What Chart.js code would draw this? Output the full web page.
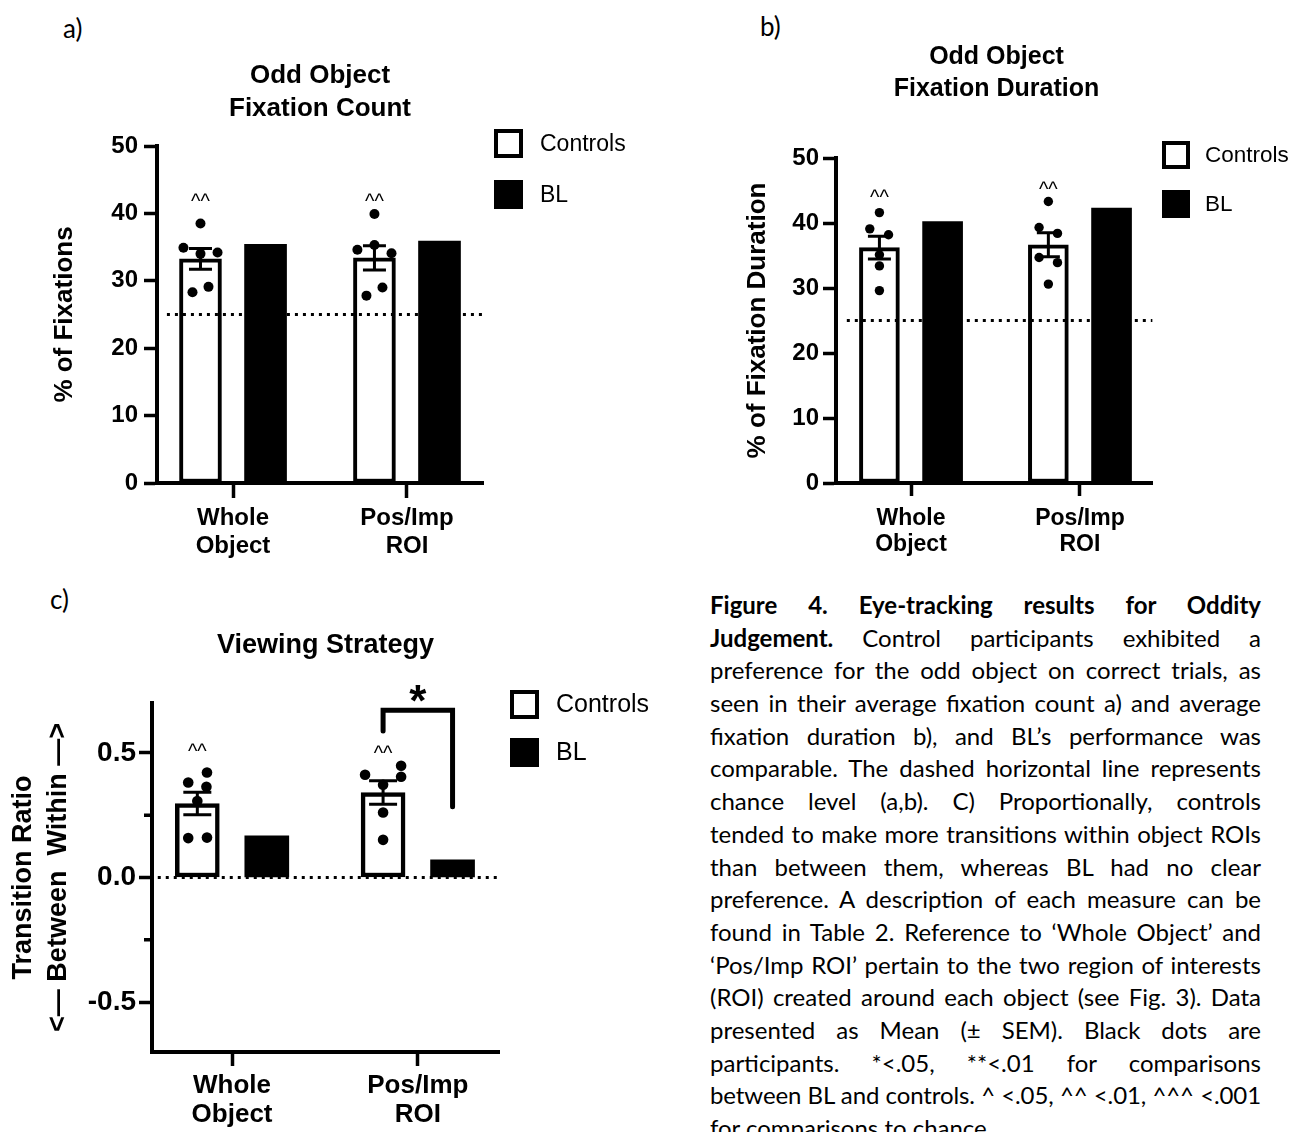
<!DOCTYPE html>
<html>
<head>
<meta charset="utf-8">
<script src="https://cdn.jsdelivr.net/npm/chart.js@4.4.1/dist/chart.umd.min.js"></script>
<style>
  html, body { margin: 0; padding: 0; background: #fff; }
  body { width: 1293px; height: 1132px; position: relative; overflow: hidden; }
  canvas { position: absolute; }
  .tag { position: absolute; font-family: Lato, 'Noto Sans', sans-serif; font-size: 26px; line-height: 1.2; color: #000; }
  #caption { position: absolute; left: 710px; top: 589px; width: 551px; font-family: Lato, 'Noto Sans', sans-serif; font-size: 24px; color: #000; }
  #caption div { height: 32.7px; line-height: 32.7px; text-align: justify; text-align-last: justify; white-space: nowrap; }
  #caption div.last { text-align-last: left; }
</style>
</head>
<body>
<div class="tag" style="left:63px;top:13px">a)</div>
<div class="tag" style="left:760px;top:11px">b)</div>
<div class="tag" style="left:50px;top:584px">c)</div>

<canvas id="chartA" width="660" height="575" style="left:0;top:0"></canvas>
<canvas id="chartB" width="593" height="575" style="left:700px;top:0"></canvas>
<canvas id="chartC" width="700" height="557" style="left:0;top:575px"></canvas>

<div id="caption"></div>

<script>
// ---- data ----
const categories = [['Whole', 'Object'], ['Pos/Imp', 'ROI']];
const groupNames = ['Controls', 'BL'];

// a) odd object fixation count (% of fixations)
const countCtrlMean = [33.25, 33.4];
const countCtrlSem = [1.55, 1.8];
const countBL = [35.4, 35.9];
const countDots = [
  [38.5, 34.9, 34.2, 34.0, 29.1, 28.3],
  [39.9, 34.6, 35.3, 34.1, 29.0, 27.8]
];

// b) odd object fixation duration (% of fixation duration)
const durCtrlMean = [36.2, 36.65];
const durCtrlSem = [1.75, 1.85];
const durBL = [40.2, 42.3];
const durDots = [
  [41.6, 39.1, 38.2, 35.1, 33.4, 29.6],
  [43.3, 39.3, 38.4, 34.7, 33.9, 30.6]
];

// c) viewing strategy (transition ratio)
const ratioCtrlMean = [0.297, 0.341];
const ratioCtrlSem = [0.045, 0.047];
const ratioBL = [0.167, 0.071];
const ratioDots = [
  [0.421, 0.381, 0.364, 0.307, 0.158, 0.160],
  [0.448, 0.412, 0.404, 0.372, 0.261, 0.151]
];

const chanceAB = 25;
const yTicksAB = [0, 10, 20, 30, 40, 50];
const yTicksC = [-0.5, 0, 0.5];
const yMinorC = [-0.25, 0.25];

// ---- layout helpers (not data) ----
const groupOffset = 0.187;           // bar centre offset from category, in axis units
const jitterA = [[0, -0.098, 0.098, 0, 0.046, -0.046], [0, -0.098, 0, 0.098, 0.046, -0.046]];
const jitterB = [[0, -0.057, 0.054, 0, 0, 0], [0, -0.055, 0.054, -0.055, 0.054, 0]];
const jitterC = [[0.052, -0.049, 0.049, 0, -0.049, 0.052], [0.097, -0.097, 0.097, 0, 0, 0]];

const captionLines = [
  '<b>Figure 4. Eye-tracking results for Oddity</b>',
  '<b>Judgement.</b> Control participants exhibited a',
  'preference for the odd object on correct trials, as',
  'seen in their average fixation count a) and average',
  'fixation duration b), and BL’s performance was',
  'comparable. The dashed horizontal line represents',
  'chance level (a,b). C) Proportionally, controls',
  'tended to make more transitions within object ROIs',
  'than between them, whereas BL had no clear',
  'preference. A description of each measure can be',
  'found in Table 2. Reference to ‘Whole Object’ and',
  '‘Pos/Imp ROI’ pertain to the two region of interests',
  '(ROI) created around each object (see Fig. 3). Data',
  'presented as Mean (± SEM). Black dots are',
  'participants. *&lt;.05, **&lt;.01 for comparisons',
  'between BL and controls. ^ &lt;.05, ^^ &lt;.01, ^^^ &lt;.001',
  'for comparisons to chance.'
];

Chart.defaults.font.family = "'Liberation Sans', Arial, Helvetica, sans-serif";
Chart.defaults.color = '#000';

// legend as its own layout box on the right, so the chart area ends where the axis ends
const boxLegend = {
  id: 'boxLegend',
  beforeInit(chart, args, o) {
    const box = {
      position: 'right', weight: 0, fullSize: true, options: {},
      left: 0, top: 0, right: 0, bottom: 0, width: 0, height: 0,
      isHorizontal() { return false; },
      update(maxW, maxH) { box.width = o.width; box.height = maxH; },
      draw() {
        const ctx = chart.ctx;
        const bars = chart.data.datasets.filter(d => d.type === 'bar');
        bars.forEach((d, i) => {
          const bx = box.left + o.x, by = box.top + o.y + i * o.gap;
          ctx.save();
          ctx.fillStyle = d.borderWidth ? d.borderColor : d.backgroundColor;
          ctx.fillRect(bx, by, o.size, o.size);
          if (d.borderWidth) {
            ctx.fillStyle = d.backgroundColor;
            ctx.fillRect(bx + o.border, by + o.border, o.size - 2 * o.border, o.size - 2 * o.border);
          }
          ctx.fillStyle = '#000';
          ctx.font = o.font;
          ctx.textAlign = 'left';
          ctx.textBaseline = 'middle';
          ctx.fillText(d.label, bx + o.size + o.textGap, by + o.size / 2 + 1);
          ctx.restore();
        });
      }
    };
    Chart.layouts.addBox(chart, box);
  }
};

const errorBars = {
  id: 'errorBars',
  afterDatasetsDraw(chart, args, o) {
    const ctx = chart.ctx, y = chart.scales.y;
    chart.data.datasets.forEach((ds, di) => {
      if (!ds.errors) return;
      chart.getDatasetMeta(di).data.forEach((bar, i) => {
        const v = ds.data[i].y, e = ds.errors[i];
        const top = y.getPixelForValue(v + e), bot = y.getPixelForValue(v - e);
        ctx.save();
        ctx.strokeStyle = '#000';
        ctx.lineWidth = o.width;
        ctx.beginPath();
        ctx.moveTo(bar.x, top); ctx.lineTo(bar.x, bot);
        ctx.moveTo(bar.x - o.cap / 2, top); ctx.lineTo(bar.x + o.cap / 2, top);
        ctx.moveTo(bar.x - o.cap / 2, bot); ctx.lineTo(bar.x + o.cap / 2, bot);
        ctx.stroke();
        ctx.restore();
      });
    });
  }
};

// significance marks, brackets and minor ticks
const marks = {
  id: 'marks',
  afterDraw(chart, args, o) {
    const ctx = chart.ctx, x = chart.scales.x, y = chart.scales.y;
    (o.texts || []).forEach(t => {
      ctx.save();
      ctx.font = t.font;
      ctx.fillStyle = '#000';
      ctx.textAlign = 'center';
      ctx.textBaseline = 'alphabetic';
      ctx.fillText(t.text, x.getPixelForValue(t.x), y.getPixelForValue(t.y) + t.lift);
      ctx.restore();
    });
    (o.brackets || []).forEach(b => {
      ctx.save();
      ctx.strokeStyle = '#000';
      ctx.lineWidth = b.width;
      ctx.lineCap = 'round';
      ctx.beginPath();
      b.points.forEach((p, i) => {
        const px = x.getPixelForValue(p[0]), py = y.getPixelForValue(p[1]);
        if (i) ctx.lineTo(px, py); else ctx.moveTo(px, py);
      });
      ctx.stroke();
      ctx.restore();
    });
    if (o.minor) {
      ctx.save();
      ctx.strokeStyle = '#000';
      ctx.lineWidth = o.minor.width;
      ctx.beginPath();
      o.minor.values.forEach(v => {
        const py = y.getPixelForValue(v);
        ctx.moveTo(y.right - o.minor.length, py);
        ctx.lineTo(y.right, py);
      });
      ctx.stroke();
      ctx.restore();
    }
  }
};

function makePanel(id, s) {
  const xCtrl = categories.map((c, i) => i + 1 - groupOffset);
  const xBL = categories.map((c, i) => i + 1 + groupOffset);
  // participant dots sit over the Controls bar, spread sideways
  const dots = [];
  s.dots.forEach((vals, i) => vals.forEach((v, j) => dots.push({ x: xCtrl[i] + s.jitter[i][j], y: v })));

  const barBase = {
    type: 'bar', grouped: false, barPercentage: 1, categoryPercentage: 1,
    maxBarThickness: s.barWidth, borderSkipped: false, order: 2
  };
  const axisBorder = { display: true, color: '#000', width: 4 };

  return new Chart(document.getElementById(id), {
    type: 'scatter',
    data: {
      datasets: [
        { type: 'scatter', label: 'participants', data: dots, order: 0,
          pointRadius: s.dotRadius, pointHoverRadius: s.dotRadius,
          backgroundColor: '#000', borderWidth: 0 },
        { type: 'line', label: 'chance', order: 1,
          data: [{ x: s.chanceFrom, y: s.chance }, { x: s.xMax, y: s.chance }],
          borderColor: '#000', borderWidth: 3, borderDash: [3, 5], pointRadius: 0, fill: false },
        { ...barBase, label: groupNames[0], data: s.ctrl.map((v, i) => ({ x: xCtrl[i], y: v })),
          errors: s.sem, backgroundColor: '#fff', borderColor: '#000', borderWidth: s.barBorder },
        { ...barBase, label: groupNames[1], data: s.bl.map((v, i) => ({ x: xBL[i], y: v })),
          backgroundColor: '#000', borderColor: '#000', borderWidth: 0 }
      ]
    },
    options: {
      responsive: false,
      animation: false,
      events: [],
      layout: { padding: 0 },
      scales: {
        x: {
          type: 'linear', min: s.xMin, max: s.xMax, offset: false,
          afterBuildTicks: ax => { ax.ticks = categories.map((c, i) => ({ value: i + 1 })); },
          afterFit: ax => { ax.height = s.xHeight; },
          ticks: {
            callback: v => categories[Math.round(v) - 1],
            font: { size: s.xFont, weight: 'bold', lineHeight: s.xLine },
            padding: s.xPad, maxRotation: 0, autoSkip: false
          },
          grid: { offset: false, drawOnChartArea: false, tickLength: s.xTick, tickWidth: 3.5, tickColor: '#000' },
          border: axisBorder
        },
        y: {
          type: 'linear', min: s.yMin, max: s.yMax,
          afterBuildTicks: ax => { ax.ticks = s.yTicks.map(v => ({ value: v })); },
          afterFit: ax => { ax.width = s.yWidth; },
          ticks: { callback: s.yLabel, font: { size: s.yFont, weight: 'bold' }, padding: s.yPad },
          grid: { offset: false, drawOnChartArea: false, tickLength: 13, tickWidth: 3.5, tickColor: '#000' },
          border: axisBorder,
          title: {
            display: true, text: s.yTitle,
            font: { size: s.yTitleFont, weight: 'bold', lineHeight: s.yTitleLine },
            padding: { top: s.yTitlePad, bottom: 0 }
          }
        }
      },
      plugins: {
        legend: { display: false },
        tooltip: { enabled: false },
        title: {
          display: true, text: s.title, fullSize: s.titleFull,
          font: { size: s.titleFont, weight: 'bold', lineHeight: s.titleLine },
          padding: s.titlePad
        },
        boxLegend: s.legend,
        errorBars: { width: 3, cap: s.cap },
        marks: s.marks
      }
    },
    plugins: [boxLegend, errorBars, marks]
  });
}

const caret = '20px "Liberation Sans", Arial, sans-serif';

makePanel('chartA', {
  ctrl: countCtrlMean, sem: countCtrlSem, bl: countBL, dots: countDots, jitter: jitterA,
  chance: chanceAB, chanceFrom: 0.62,
  xMin: 0.563, xMax: 2.437, yMin: 0, yMax: 50, yTicks: yTicksAB, yLabel: v => String(v),
  yWidth: 157, xHeight: 92,
  barWidth: 42, barBorder: 4, dotRadius: 5, cap: 23,
  xFont: 24, xLine: 1.15, xPad: 7, xTick: 15,
  yFont: 24, yPad: 6,
  yTitle: '% of Fixations', yTitleFont: 26, yTitleLine: 1.2, yTitlePad: 49.4,
  title: ['Odd Object', 'Fixation Count'], titleFull: false, titleFont: 26, titleLine: 33 / 26,
  titlePad: { top: 59.5, bottom: 20.5 },
  legend: { width: 177, x: 11, y: 129, gap: 51, size: 29, border: 4, textGap: 17,
            font: '23px "Liberation Sans", Arial, sans-serif' },
  marks: { texts: [
    { text: '^^', x: 1 - groupOffset, y: 42.4, font: caret, lift: 10.5 },
    { text: '^^', x: 2 - groupOffset, y: 42.4, font: caret, lift: 10.5 }
  ] }
});

makePanel('chartB', {
  ctrl: durCtrlMean, sem: durCtrlSem, bl: durBL, dots: durDots, jitter: jitterB,
  chance: chanceAB, chanceFrom: 0.62,
  xMin: 0.556, xMax: 2.43, yMin: 0, yMax: 50, yTicks: yTicksAB, yLabel: v => String(v),
  yWidth: 136, xHeight: 92,
  barWidth: 40, barBorder: 4, dotRadius: 4.7, cap: 23,
  xFont: 23, xLine: 1.15, xPad: 9, xTick: 13,
  yFont: 24, yPad: 4,
  yTitle: '% of Fixation Duration', yTitleFont: 26, yTitleLine: 1.2, yTitlePad: 42.4,
  title: ['Odd Object', 'Fixation Duration'], titleFull: true, titleFont: 25, titleLine: 1.3,
  titlePad: { top: 40.75, bottom: 52.25 },
  legend: { width: 140.4, x: 9.4, y: 141, gap: 49, size: 28, border: 4, textGap: 15,
            font: '22.5px "Liberation Sans", Arial, sans-serif' },
  marks: { texts: [
    { text: '^^', x: 1 - groupOffset, y: 44.5, font: caret, lift: 10.5 },
    { text: '^^', x: 2 - groupOffset, y: 45.8, font: caret, lift: 10.5 }
  ] }
});

makePanel('chartC', {
  ctrl: ratioCtrlMean, sem: ratioCtrlSem, bl: ratioBL, dots: ratioDots, jitter: jitterC,
  chance: 0, chanceFrom: 0.6,
  xMin: 0.569, xMax: 2.437, yMin: -0.7, yMax: 0.7, yTicks: yTicksC, yLabel: v => v.toFixed(1),
  yWidth: 152, xHeight: 80,
  barWidth: 44, barBorder: 4.5, dotRadius: 5.3, cap: 28,
  xFont: 26, xLine: 1.1, xPad: 6, xTick: 14,
  yFont: 28, yPad: 3,
  yTitle: ['Transition Ratio', '<— Between  Within —>'], yTitleFont: 27, yTitleLine: 35 / 27, yTitlePad: 6.5,
  title: 'Viewing Strategy', titleFull: false, titleFont: 27, titleLine: 32 / 27,
  titlePad: { top: 55, bottom: 41 },
  legend: { width: 201, x: 11, y: 115, gap: 48, size: 29, border: 4, textGap: 17,
            font: '25px "Liberation Sans", Arial, sans-serif' },
  marks: {
    texts: [
      { text: '^^', x: 1 - groupOffset, y: 0.521, font: caret, lift: 10.5 },
      { text: '^^', x: 2 - groupOffset, y: 0.514, font: caret, lift: 10.5 },
      { text: '*', x: 2, y: 0.748, font: 'bold 44px "Liberation Sans", Arial, sans-serif', lift: 24.6 }
    ],
    brackets: [
      { width: 5, points: [[2 - groupOffset, 0.588], [2 - groupOffset, 0.671], [2 + groupOffset, 0.671], [2 + groupOffset, 0.284]] }
    ],
    minor: { values: yMinorC, length: 8, width: 3.5 }
  }
});

// caption: one justified block per printed line; lines wider than the column are tightened
const cap = document.getElementById('caption');
const colWidth = 549;
captionLines.forEach((h, i) => {
  const d = document.createElement('div');
  d.innerHTML = h;
  if (i === captionLines.length - 1) d.className = 'last';
  cap.appendChild(d);
  const probe = document.createElement('span');
  probe.style.cssText = 'position:absolute;visibility:hidden;white-space:nowrap;';
  probe.innerHTML = h;
  cap.appendChild(probe);
  const w = probe.getBoundingClientRect().width;
  cap.removeChild(probe);
  if (w > colWidth) {
    const n = probe.textContent.length;
    d.style.letterSpacing = ((colWidth - w) / n).toFixed(3) + 'px';
  }
});
</script>
</body>
</html>
